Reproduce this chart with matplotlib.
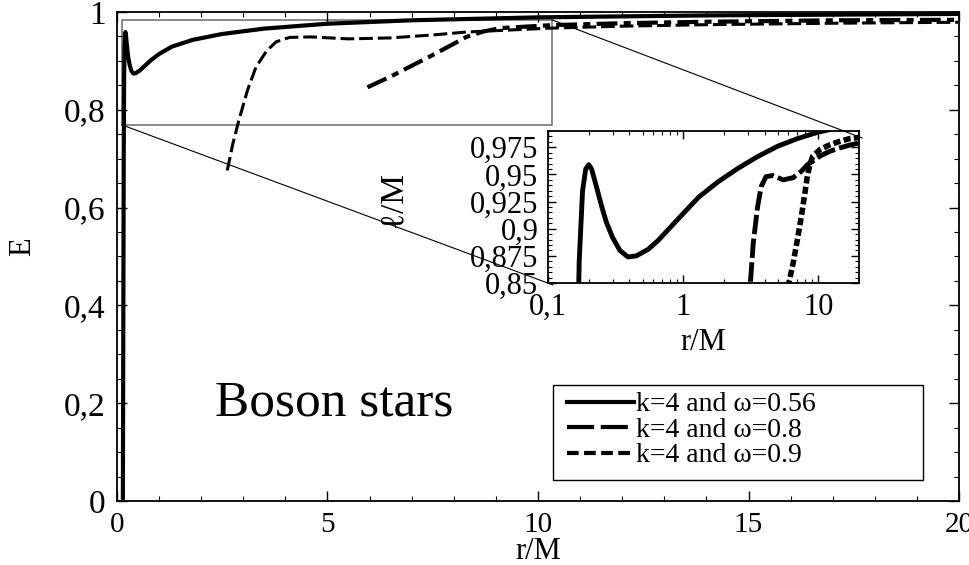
import matplotlib.pyplot as plt
from matplotlib.patches import Rectangle, ConnectionPatch
from matplotlib.lines import Line2D
from matplotlib.ticker import MultipleLocator, FixedLocator, NullFormatter

plt.rcParams['font.family'] = ['Liberation Serif', 'DejaVu Serif']

# energy E(r) along the three boson star configurations
r_056 = [0.14, 0.15, 0.16, 0.17, 0.18, 0.19, 0.2, 0.21, 0.23, 0.25, 0.27, 0.3,
         0.34, 0.39, 0.45, 0.55, 0.65, 0.8, 1.0, 1.3, 1.8, 2.5, 3.5, 5.0, 7.0,
         10.0, 14.0, 20.0]
E_056 = [0.0, 0.35, 0.7, 0.87, 0.935, 0.955, 0.959, 0.955, 0.937, 0.92, 0.906,
         0.892, 0.88, 0.874, 0.875, 0.881, 0.889, 0.901, 0.914, 0.929, 0.943,
         0.955, 0.966, 0.976, 0.983, 0.989, 0.993, 0.996]

r_08 = [2.62, 2.75, 2.9, 3.1, 3.3, 3.55, 3.78, 4.1, 4.6, 5.5, 6.5, 7.5, 8.3,
        9.3, 10.3, 12.0, 14.0, 17.0, 20.0]
E_08 = [0.676, 0.73, 0.78, 0.84, 0.887, 0.92, 0.939, 0.948, 0.949, 0.945,
        0.947, 0.953, 0.959, 0.963, 0.967, 0.971, 0.974, 0.977, 0.979]

r_09 = [5.95, 6.5, 7.0, 7.5, 8.0, 8.3, 8.7, 9.1, 9.7, 10.3, 12.0, 14.0, 17.0, 20.0]
E_09 = [0.846, 0.868, 0.89, 0.912, 0.935, 0.949, 0.960, 0.967, 0.970, 0.973,
        0.977, 0.980, 0.983, 0.984]

labels = ["k=4 and \u03c9=0.56", "k=4 and \u03c9=0.8", "k=4 and \u03c9=0.9"]

xticks = [0, 5, 10, 15, 20]
xticklabels = ["0", "5", "10", "15", "20"]
yticks = [0, 0.2, 0.4, 0.6, 0.8, 1.0]
yticklabels = ["0", "0,2", "0,4", "0,6", "0,8", "1"]

in_xticks = [0.1, 1, 10]
in_xticklabels = ["0,1", "1", "10"]
in_yticks = [0.85, 0.875, 0.9, 0.925, 0.95, 0.975]
in_yticklabels = ["0,85", "0,875", "0,9", "0,925", "0,95", "0,975"]

# zoomed region shown in the inset
zoom_x = (0.12, 10.33)
zoom_y = (0.769, 0.984)

fig = plt.figure(figsize=(9.7, 5.65), dpi=100)
ax = fig.add_axes([0.1206, 0.1133, 0.8681, 0.8655])

ax.plot(r_056, E_056, color='k', lw=3)
ax.plot(r_08, E_08, color='k', lw=2.2, dashes=(4.5, 1.6))
ax.plot(r_09, E_09, color='k', lw=3, dashes=(5, 1.5, 1.7, 1.5))

ax.set_xlim(0, 20)
ax.set_ylim(0, 1)
ax.set_xticks(xticks, xticklabels)
ax.set_yticks(yticks, yticklabels)
ax.xaxis.set_minor_locator(MultipleLocator(1))
ax.yaxis.set_minor_locator(MultipleLocator(0.05))
ax.tick_params(which='both', direction='in', top=True, right=True, pad=8)
ax.tick_params(axis='x', labelsize=21)
ax.tick_params(axis='y', labelsize=24)
ax.tick_params(which='major', length=7, width=1)
ax.tick_params(which='minor', length=3.5, width=0.8)
for s in ax.spines.values():
    s.set_linewidth(1.3)

ax.set_xlabel("r/M", fontsize=22)
ax.xaxis.set_label_coords(0.5, -0.074)
ax.set_ylabel("E", fontsize=22)
ax.yaxis.set_label_coords(-0.095, 0.52)

ax.add_patch(Rectangle((zoom_x[0], zoom_y[0]), zoom_x[1] - zoom_x[0],
                       zoom_y[1] - zoom_y[0], fill=False, ec='#777777', lw=1.2))

ax.text(0.258, 0.2, "Boson stars", transform=ax.transAxes, fontsize=37,
        ha='center', va='center')

# inset, log scale in r
axin = fig.add_axes([0.565, 0.4991, 0.3206, 0.2690])
axin.plot(r_056, E_056, color='k', lw=3.5)
axin.plot(r_08, E_08, color='k', lw=3.5, dashes=(4, 0.9))
axin.plot(r_09, E_09, color='k', lw=4, dashes=(1.3, 0.6))
axin.set_xscale('log')
axin.set_xlim(0.1, 20)
axin.set_ylim(0.85, 0.99)
axin.set_xticks(in_xticks, in_xticklabels)
axin.xaxis.set_minor_locator(FixedLocator(
    [0.2, 0.3, 0.4, 0.5, 0.6, 0.7, 0.8, 0.9, 2, 3, 4, 5, 6, 7, 8, 9, 20]))
axin.xaxis.set_minor_formatter(NullFormatter())
axin.set_yticks(in_yticks, in_yticklabels)
axin.yaxis.set_minor_locator(MultipleLocator(0.005))
axin.tick_params(which='both', direction='in', top=True, right=True,
                 labelsize=22, pad=7)
axin.tick_params(which='major', length=6, width=1)
axin.tick_params(which='minor', length=3, width=0.8)
for s in axin.spines.values():
    s.set_linewidth(1.3)
axin.set_xlabel("r/M", fontsize=22)
axin.xaxis.set_label_coords(0.5, -0.296)
axin.set_ylabel("\u2113/M", fontsize=24)
axin.yaxis.set_label_coords(-0.45, 0.55)

# connector lines between zoom box and inset
con1 = ConnectionPatch(xyA=(zoom_x[0], zoom_y[0]), coordsA=ax.transData,
                       xyB=(0.016, -0.013), coordsB=axin.transAxes,
                       color='k', lw=0.8)
con2 = ConnectionPatch(xyA=(zoom_x[1], zoom_y[1]), coordsA=ax.transData,
                       xyB=(1.01, 0.954), coordsB=axin.transAxes,
                       color='k', lw=0.8)
fig.add_artist(con1)
fig.add_artist(con2)

# legend
handles = [Line2D([], [], color='k', lw=3),
           Line2D([], [], color='k', lw=3, dashes=(6.5, 1.6)),
           Line2D([], [], color='k', lw=3, dashes=(2.8, 1.3))]
fig.legend(handles, labels, loc='upper left',
           bbox_to_anchor=(567 / 970, 1 - 392 / 565),
           bbox_transform=fig.transFigure, frameon=False, fontsize=20,
           handlelength=2.4, handletextpad=0.1, labelspacing=0.0,
           borderpad=0, borderaxespad=0)
fig.add_artist(Rectangle((553 / 970, 1 - 480 / 565), 370 / 970, 95 / 565,
                         transform=fig.transFigure, fill=False, ec='k', lw=1))

fig.savefig("out.png", dpi=100)
